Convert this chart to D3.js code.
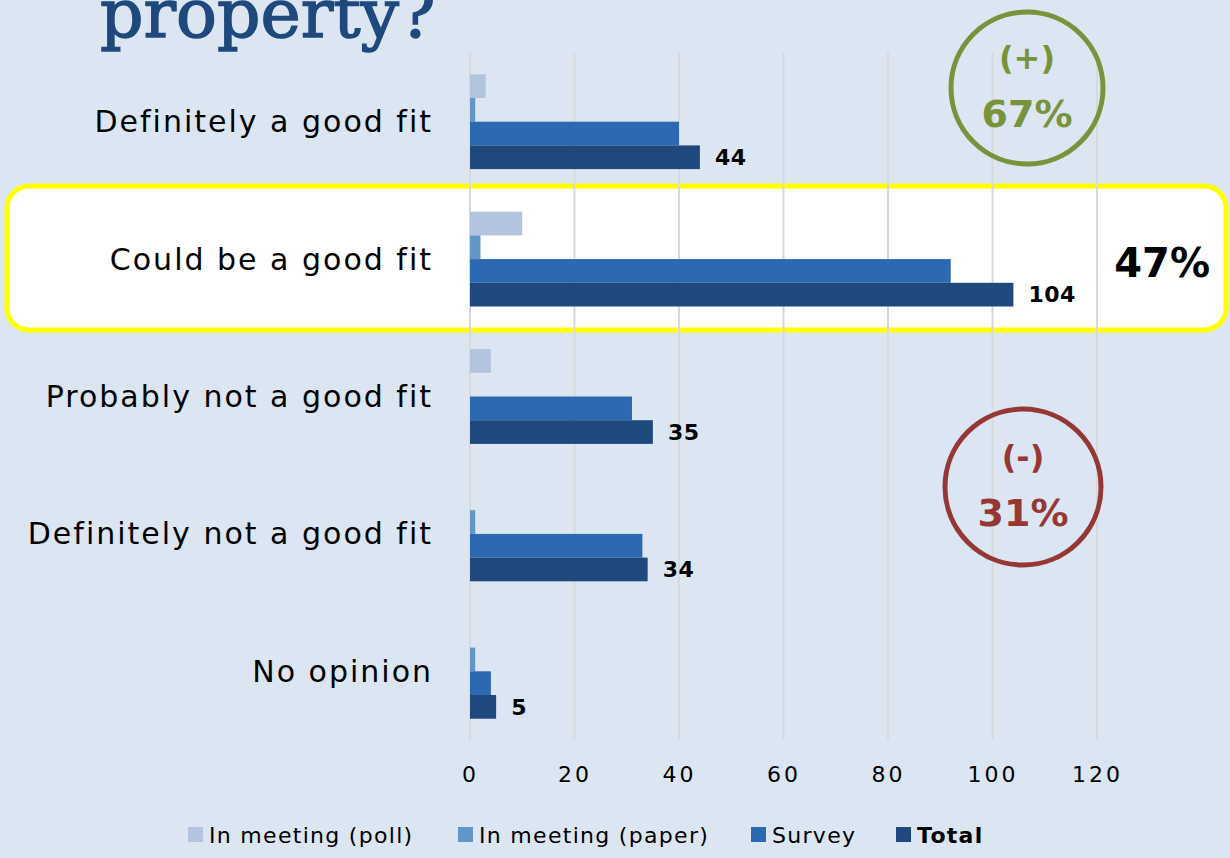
<!DOCTYPE html>
<html>
<head>
<meta charset="utf-8">
<title>Fit chart</title>
<script src="https://cdn.jsdelivr.net/npm/d3@7"></script>
<style>
  html, body { margin: 0; padding: 0; background: #dce6f2; }
  svg { display: block; }
  .cat { font-family: "DejaVu Sans", sans-serif; font-size: 30px; letter-spacing: 2px; fill: #000; }
  .tick text { font-family: "DejaVu Sans", sans-serif; font-size: 22px; fill: #000; }
  .val { font-family: "DejaVu Sans", sans-serif; font-size: 22px; font-weight: bold; letter-spacing: 0.5px; fill: #000; }
  .leg { font-family: "DejaVu Sans", sans-serif; font-size: 22px; letter-spacing: 1.3px; fill: #000; }
</style>
</head>
<body>
<svg width="1230" height="858"></svg>
<script>
// data
var categories = ["Definitely a good fit", "Could be a good fit", "Probably not a good fit", "Definitely not a good fit", "No opinion"];
var seriesNames = ["In meeting (poll)", "In meeting (paper)", "Survey", "Total"];
var poll   = [3, 10, 4, 0, 0];
var paper  = [1, 2, 0, 1, 1];
var survey = [40, 92, 31, 33, 4];
var total  = [44, 104, 35, 34, 5];
var xTicks = [0, 20, 40, 60, 80, 100, 120];
var colors = ["#b4c4df", "#6096c8", "#2d69b0", "#1f497d"];

var values = [poll, paper, survey, total];

var svg = d3.select("svg");

// title (cut off at top, like the slide)
svg.append("text")
    .attr("x", 100).attr("y", 37)
    .style("font-family", "'DejaVu Serif', serif")
    .style("font-size", "68px")
    .style("fill", "#1f497d")
    .style("stroke", "#1f497d")
    .style("stroke-width", "1.5px")
    .text("property?");

var x = d3.scaleLinear().domain([0, 120]).range([470, 1097]);
var y = d3.scaleBand().domain(categories).range([53, 740]).paddingInner(0.31).paddingOuter(0.155);
var ys = d3.scaleBand().domain(seriesNames).range([0, y.bandwidth()]);

// highlight box behind "Could be a good fit"
svg.append("rect")
    .attr("x", 7).attr("y", 186)
    .attr("width", 1219).attr("height", 144)
    .attr("rx", 22)
    .attr("fill", "#fff")
    .attr("stroke", "#ffff00")
    .attr("stroke-width", 5);

// gridlines
svg.append("g")
  .selectAll("line")
  .data(xTicks)
  .enter().append("line")
    .attr("x1", function(d) { return x(d); })
    .attr("x2", function(d) { return x(d); })
    .attr("y1", 53).attr("y2", 740)
    .attr("stroke", "#d9d9d9")
    .attr("stroke-width", 2);

// x axis labels
var xAxis = svg.append("g")
    .attr("transform", "translate(0,766)")
    .call(d3.axisBottom(x).tickValues(xTicks).tickSize(0).tickPadding(0));
xAxis.select(".domain").remove();
xAxis.selectAll("text").attr("letter-spacing", "3px");

// bars
seriesNames.forEach(function(s, i) {
  svg.append("g")
    .selectAll("rect")
    .data(categories)
    .enter().append("rect")
      .attr("x", x(0))
      .attr("y", function(c) { return y(c) + ys(s); })
      .attr("width", function(c, j) { return x(values[i][j]) - x(0); })
      .attr("height", ys.bandwidth())
      .attr("fill", colors[i]);
});

// total value labels
svg.append("g")
  .selectAll("text")
  .data(categories)
  .enter().append("text")
    .attr("class", "val")
    .attr("x", function(c, j) { return x(total[j]) + 15; })
    .attr("y", function(c) { return y(c) + ys("Total") + ys.bandwidth() / 2; })
    .attr("dy", "0.35em")
    .text(function(c, j) { return total[j]; });

// category labels
svg.append("g")
  .selectAll("text")
  .data(categories)
  .enter().append("text")
    .attr("class", "cat")
    .attr("x", 433)
    .attr("y", function(c) { return y(c) + y.bandwidth() / 2; })
    .attr("dy", "0.35em")
    .attr("text-anchor", "end")
    .text(function(c) { return c; });

// 47% callout
svg.append("text")
    .attr("x", 1210).attr("y", 263)
    .attr("dy", "0.35em")
    .attr("text-anchor", "end")
    .style("font-family", "'DejaVu Sans', sans-serif")
    .style("font-size", "40px")
    .style("font-weight", "bold")
    .text("47%");

// circles
function badge(cx, cy, r, col, top, bottom) {
  svg.append("circle")
      .attr("cx", cx).attr("cy", cy).attr("r", r)
      .attr("fill", "none").attr("stroke", col).attr("stroke-width", 5);
  svg.append("text")
      .attr("x", cx).attr("y", cy - 30).attr("dy", "0.35em")
      .attr("text-anchor", "middle")
      .style("font-family", "'DejaVu Sans', sans-serif")
      .style("font-size", "32px").style("font-weight", "bold")
      .style("fill", col)
      .text(top);
  svg.append("text")
      .attr("x", cx).attr("y", cy + 26).attr("dy", "0.35em")
      .attr("text-anchor", "middle")
      .style("font-family", "'DejaVu Sans', sans-serif")
      .style("font-size", "38px").style("font-weight", "bold")
      .style("fill", col)
      .text(bottom);
}
badge(1027, 88, 76, "#77933c", "(+)", "67%");
badge(1023, 487, 78, "#953735", "(-)", "31%");

// legend
var legX = [188, 458, 751, 896];
var leg = svg.append("g")
  .selectAll("g")
  .data(seriesNames)
  .enter().append("g")
    .attr("transform", function(d, i) { return "translate(" + legX[i] + ",835)"; });
leg.append("rect")
    .attr("x", 0).attr("y", -8)
    .attr("width", 15).attr("height", 15)
    .attr("fill", function(d, i) { return colors[i]; });
leg.append("text")
    .attr("class", "leg")
    .attr("x", 21).attr("dy", "0.35em")
    .style("font-weight", function(d) { return d == "Total" ? "bold" : "normal"; })
    .text(function(d) { return d; });
</script>
</body>
</html>
